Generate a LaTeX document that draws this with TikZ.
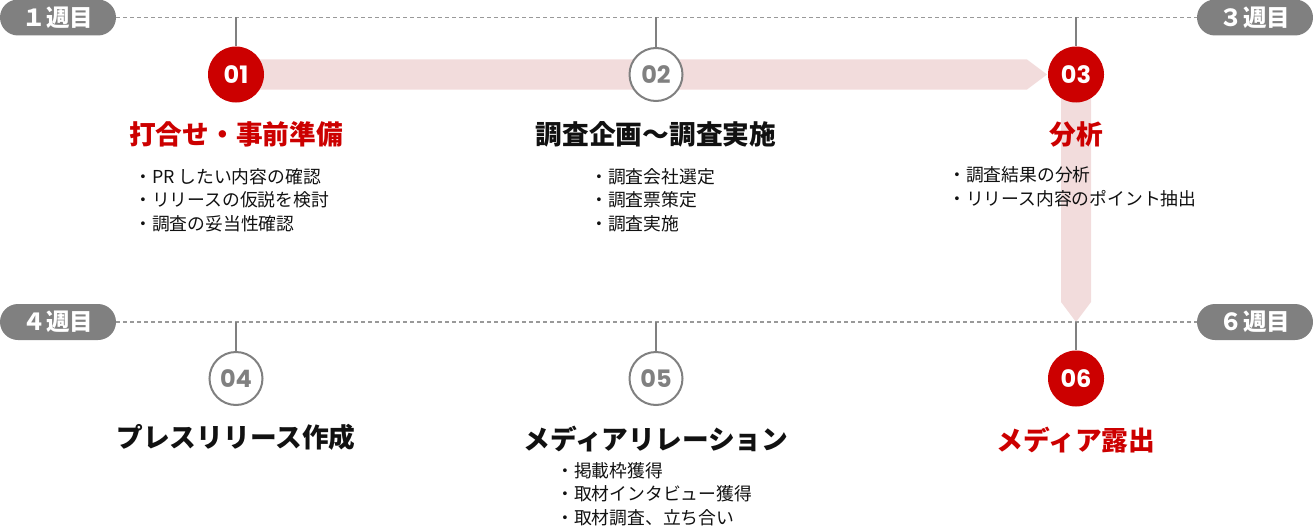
\documentclass[tikz,border=0pt]{standalone}
\usepackage{fontspec}
\setmainfont{Noto Sans CJK JP}
\newfontfamily\numfont{Poppins}
\usetikzlibrary{calc,backgrounds}
\definecolor{pillgray}{HTML}{808080}
\definecolor{dashgray}{HTML}{999999}
\definecolor{tickgray}{HTML}{808080}
\definecolor{redmain}{HTML}{CC0000}
\definecolor{bandpink}{HTML}{F2DCDC}
\definecolor{textblack}{HTML}{111111}
\tikzset{
  pill/.style={fill=pillgray, text=white, rounded corners=18pt, minimum width=116pt, minimum height=36pt, inner sep=0pt, font=\fontsize{23.5}{23.5}\selectfont\bfseries},
  weekline/.style={draw=dashgray, line width=1.5pt, dash pattern=on 4pt off 3pt},
  tick/.style={draw=tickgray, line width=2pt},
  redcirc/.style={circle, fill=redmain, text=white, minimum size=56pt, inner sep=0pt, font=\numfont\fontsize{24}{24}\selectfont\bfseries},
  graycirc/.style={circle, fill=white, draw=tickgray, line width=2pt, text=tickgray, minimum size=53pt, inner sep=0pt, font=\numfont\fontsize{24}{24}\selectfont\bfseries},
  redtitle/.style={text=redmain, font=\fontsize{26.7}{26.7}\selectfont\bfseries, inner sep=0pt},
  blacktitle/.style={text=textblack, font=\fontsize{26.7}{26.7}\selectfont\bfseries, inner sep=0pt},
  itemlist/.style={text=textblack, font=\fontsize{17.8}{23.8}\selectfont, align=left, anchor=north west, inner sep=0pt},
  band/.style={fill=bandpink, draw=none}
}
\begin{document}
\begin{tikzpicture}[x=1pt,y=-1pt]
\useasboundingbox (0,0) rectangle (1313,527);
% week pills
\node[pill] (w1) at (58,17.5) {１週目};
\node[pill] (w3) at (1255,17.5) {３週目};
\node[pill] (w4) at (58,322) {４週目};
\node[pill] (w6) at (1255,322) {６週目};
\draw[weekline] (w1.east) -- (w3.west);
\draw[weekline] (w4.east) -- (w6.west);
% circles
\node[redcirc] (c1) at (236,74.5) {01};
\node[graycirc] (c2) at (656,74.5) {02};
\node[redcirc] (c3) at (1076,74.5) {03};
\node[graycirc] (c4) at (236,378.5) {04};
\node[graycirc] (c5) at (656,378.5) {05};
\node[redcirc] (c6) at (1076,378.5) {06};
% ticks
\foreach \c/\w in {c1/w1,c2/w1,c3/w1} {
  \draw[tick] (\c.north |- \w.center) -- (\c.north);
}
\foreach \c/\w in {c4/w4,c5/w4,c6/w4} {
  \draw[tick] (\c.north |- \w.center) -- (\c.north);
}
% progress band
\begin{scope}[on background layer]
\coordinate (tipH) at ($(c3.center)+(-29,0)$);
\coordinate (tipV) at (c3.center |- w6.center);
\fill[band] ($(c1.center)+(0,-15)$) -- ($(tipH)+(-20,-15)$) -- (tipH) -- ($(tipH)+(-20,15)$) -- ($(c1.center)+(0,15)$) -- cycle;
\fill[band] ($(c3.center)+(-15,0)$) -- ($(tipV)+(-15,-20)$) -- (tipV) -- ($(tipV)+(15,-20)$) -- ($(c3.center)+(15,0)$) -- cycle;
\end{scope}
% titles
\node[redtitle] (t1) at (236,134.5) {打合せ・事前準備};
\node[blacktitle] (t2) at (656,134.5) {調査企画〜調査実施};
\node[redtitle] (t3) at (1076,134.5) {分析};
\node[blacktitle] (t4) at (236,437.5) {プレスリリース作成};
\node[blacktitle] (t5) at (656,439) {メディアリレーション};
\node[redtitle] (t6) at (1076,440) {メディア露出};
% item lists
\node[itemlist] (l1) at (134,168) {・PR したい内容の確認\\・リリースの仮説を検討\\・調査の妥当性確認};
\node[itemlist] (l2) at (590,168) {・調査会社選定\\・調査票策定\\・調査実施};
\node[itemlist] (l3) at (948,166.5) {・調査結果の分析\\・リリース内容のポイント抽出};
\node[itemlist] (l5) at (556,462) {・掲載枠獲得\\・取材インタビュー獲得\\・取材調査、立ち合い};
\end{tikzpicture}
\end{document}
